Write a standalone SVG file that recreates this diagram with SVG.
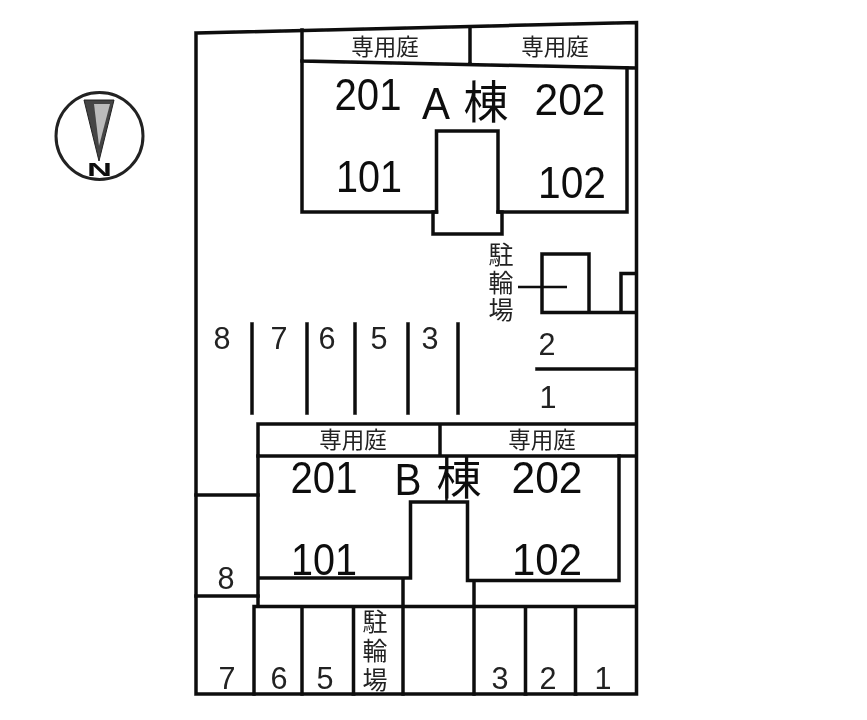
<svg xmlns="http://www.w3.org/2000/svg" width="867" height="720" viewBox="0 0 867 720">
<defs><filter id="soft" filterUnits="userSpaceOnUse" x="0" y="0" width="867" height="720"><feGaussianBlur stdDeviation="0.5"/></filter></defs>
<style>
.l{fill:none;stroke:#0a0a0a;stroke-width:3.5;stroke-linejoin:miter;stroke-linecap:square}
.t{stroke-width:2.5;stroke-linecap:butt}
text{font-family:"Liberation Sans","Noto Sans CJK JP",sans-serif;fill:#111;text-anchor:middle}
.u{font-size:44px}
.b{font-size:45px}
.p{font-size:32px;fill:#222}
.g{font-size:22.500px;fill:#222}
.k{font-size:25px;fill:#222}
</style>
<rect width="867" height="720" fill="#fff"/>
<g filter="url(#soft)">
<g id="compass">
<circle cx="99.500" cy="136" r="43.500" fill="#fff" stroke="#222" stroke-width="3"/>
<polygon points="84,100 114,100 99,161" fill="#444" stroke="#222" stroke-width="1"/>
<polygon points="94,104 110,104 99,146" fill="#bbb"/>
<text x="99.500" y="176" style="font-size:18px;font-weight:bold;fill:#111" textLength="25" lengthAdjust="spacingAndGlyphs">N</text>
</g>
<g id="connectors">
<path class="l" d="M196 33L636.500 22.500V694H196Z"/>
<path class="l" d="M196 495H258M196 596H258"/>
<path class="l" d="M252 324V413M307 324V413M355 324V413M408 324V413M458 324V413"/>
<path class="l" d="M537 369H636"/>
<path class="l t" d="M518 287H567"/>
</g>
<g id="garden-a">
<path class="l" d="M302 30V61L636 68M470 28V63"/>
<text class="g" x="385" y="55">専用庭</text>
<text class="g" x="555" y="55">専用庭</text>
</g>
<g id="building-a">
<path class="l" d="M302 61V212H436.500V131H498V212H627V68"/>
<path class="l" d="M436.500 212H433V234H502V212H498"/>
<text class="u" x="368" y="110" textLength="67" lengthAdjust="spacingAndGlyphs">201</text>
<text class="u" x="570" y="115" textLength="71" lengthAdjust="spacingAndGlyphs">202</text>
<text class="u" x="369" y="192" textLength="66" lengthAdjust="spacingAndGlyphs">101</text>
<text class="u" x="572" y="198" textLength="68" lengthAdjust="spacingAndGlyphs">102</text>
<text class="b" x="436" y="119" textLength="28" lengthAdjust="spacingAndGlyphs">A</text>
<text class="b" x="486" y="119">棟</text>
</g>
<g id="bike-a">
<path class="l" d="M542 312.500V254H589V312.500M621 312.500V273.500H636M542 312.500H636"/>
<text class="k" x="501" y="264">駐</text>
<text class="k" x="501" y="292">輪</text>
<text class="k" x="501" y="319">場</text>
</g>
<g id="parking-north">
<text class="p" x="222" y="349" textLength="17" lengthAdjust="spacingAndGlyphs">8</text>
<text class="p" x="279" y="349" textLength="17" lengthAdjust="spacingAndGlyphs">7</text>
<text class="p" x="327" y="349" textLength="17" lengthAdjust="spacingAndGlyphs">6</text>
<text class="p" x="379" y="349" textLength="17" lengthAdjust="spacingAndGlyphs">5</text>
<text class="p" x="430" y="349" textLength="17" lengthAdjust="spacingAndGlyphs">3</text>
<text class="p" x="547" y="355" textLength="17" lengthAdjust="spacingAndGlyphs">2</text>
<text class="p" x="548" y="408" textLength="17" lengthAdjust="spacingAndGlyphs">1</text>
</g>
<g id="garden-b">
<path class="l" d="M258 456V424H636M258 456H636M440 424V456"/>
<text class="g" x="353" y="448">専用庭</text>
<text class="g" x="542" y="448">専用庭</text>
</g>
<g id="building-b">
<path class="l" d="M258 456V606M258 578H410.500V502H467.500V580.500H619V456"/>
<path class="l t" d="M446.500 456V502"/>
<text class="u" x="324" y="493" textLength="67" lengthAdjust="spacingAndGlyphs">201</text>
<text class="u" x="547" y="493" textLength="71" lengthAdjust="spacingAndGlyphs">202</text>
<text class="u" x="324" y="575" textLength="66" lengthAdjust="spacingAndGlyphs">101</text>
<text class="u" x="547" y="575" textLength="70" lengthAdjust="spacingAndGlyphs">102</text>
<text class="b" x="408" y="495" textLength="27" lengthAdjust="spacingAndGlyphs">B</text>
<text class="b" x="459" y="495">棟</text>
</g>
<g id="parking-south">
<path class="l" d="M403 579V694M474 581V694M254 606.500H636M254 606.500V694M302 606.500V694M353.500 606.500V694M525.500 606.500V694M575.500 606.500V694"/>
<text class="p" x="226" y="589" textLength="17" lengthAdjust="spacingAndGlyphs">8</text>
<text class="p" x="227" y="689" textLength="17" lengthAdjust="spacingAndGlyphs">7</text>
<text class="p" x="279" y="689" textLength="17" lengthAdjust="spacingAndGlyphs">6</text>
<text class="p" x="325" y="689" textLength="17" lengthAdjust="spacingAndGlyphs">5</text>
<text class="k" x="375" y="631">駐</text>
<text class="k" x="375" y="660">輪</text>
<text class="k" x="375" y="689">場</text>
<text class="p" x="500" y="689" textLength="17" lengthAdjust="spacingAndGlyphs">3</text>
<text class="p" x="548" y="689" textLength="17" lengthAdjust="spacingAndGlyphs">2</text>
<text class="p" x="603" y="689" textLength="17" lengthAdjust="spacingAndGlyphs">1</text>
</g>
</g>
</svg>
